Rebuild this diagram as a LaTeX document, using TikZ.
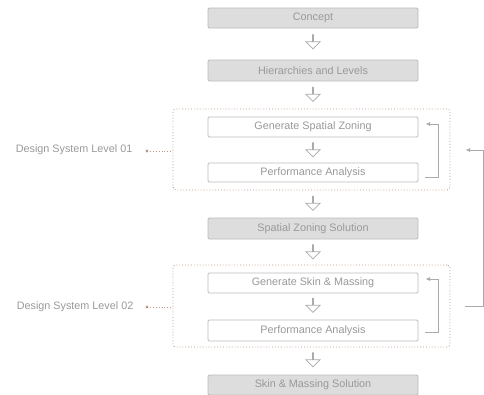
\documentclass[tikz,border=0pt]{standalone}
\usepackage{fontspec}
\setmainfont{Liberation Sans}
\usetikzlibrary{shapes.arrows,arrows.meta,calc}
\definecolor{boxfill}{HTML}{DDDDDD}
\definecolor{boxline}{HTML}{BBBBBB}
\definecolor{txt}{HTML}{999999}
\definecolor{dotc}{HTML}{B89A86}
\definecolor{loopc}{HTML}{AAAAAA}
\tikzset{
  base/.style={draw=boxline, line width=0.8pt, rounded corners=1.2pt, minimum width=210pt, inner sep=0pt, text=txt, font=\fontsize{10.8}{12}\selectfont},
  graybox/.style={base, fill=boxfill},
  whitebox/.style={base, fill=white},
  downarr/.style={single arrow, draw=loopc, fill=white, line width=0.7pt, shape border rotate=270, minimum height=14pt, minimum width=14pt, single arrow head extend=4pt, single arrow head indent=0pt, inner sep=0pt},
  dotbox/.style={draw=dotc, dotted, line width=0.9pt, rounded corners=3pt, minimum width=277pt, minimum height=81pt, inner sep=0pt},
  dotline/.style={draw=dotc, dotted, line width=0.9pt},
  loopline/.style={draw=loopc, line width=0.8pt, -{Latex[length=4.5pt,width=4pt]}},
  lab/.style={text=txt, font=\fontsize{10.8}{12}\selectfont, inner sep=0pt}
}
\begin{document}
\begin{tikzpicture}[x=1pt,y=-1pt]
\useasboundingbox (0,0) rectangle (484,394);
% dotted system boxes
\node[dotbox] (d1) at (311.5,149.5) {};
\node[dotbox, minimum height=82pt] (d2) at (311.5,306) {};
% main boxes
\node[graybox, minimum height=20pt] (c) at (313,18) {Concept};
\node[graybox, minimum height=21pt] (h) at (313,70.5) {Hierarchies and Levels};
\node[whitebox, minimum height=20pt] (g1) at (313,127) {Generate Spatial Zoning};
\node[whitebox, minimum height=19pt] (p1) at (313,172.5) {Performance Analysis};
\node[graybox, minimum height=21pt] (s1) at (313,228.5) {Spatial Zoning Solution};
\node[whitebox, minimum height=20pt] (g2) at (313,283) {Generate Skin \& Massing};
\node[whitebox, minimum height=21pt] (p2) at (313,330.5) {Performance Analysis};
\node[graybox, minimum height=20pt] (s2) at (313,385) {Skin \& Massing Solution};
% hollow arrows
\node[downarr] (a1) at (313,41.5) {};
\node[downarr] (a2) at (313,94) {};
\node[downarr] (a3) at (313,149.5) {};
\node[downarr] (a4) at (313,203) {};
\node[downarr] (a5) at (313,251.5) {};
\node[downarr] (a6) at (313,305) {};
\node[downarr] (a7) at (313,359.5) {};
% labels
\node[lab, anchor=east] (l1) at (132.5,150) {Design System Level 01};
\node[lab, anchor=east] (l2) at (133.5,307) {Design System Level 02};
\coordinate (dot1) at (147,151);
\coordinate (dot2) at (147,307);
\fill[dotc] (dot1) circle (1.6pt);
\fill[dotc] (dot2) circle (1.6pt);
\draw[dotline] (dot1) -- (d1.west |- dot1);
\draw[dotline] (dot2) -- (d2.west |- dot2);
% inner loops
\coordinate (q1s) at (425,177);
\coordinate (q1e) at (425.5,124);
\draw[loopline] (q1s) -- (438,177) -- (438,124) -- (q1e);
\coordinate (q2s) at (425,332);
\coordinate (q2e) at (425.5,279);
\draw[loopline] (q2s) -- (438,332) -- (438,279) -- (q2e);
% outer loop
\coordinate (o1) at (465,306);
\coordinate (o2) at (465.5,150);
\draw[loopline] (o1) -- (483,306) -- (483,150) -- (o2);
\end{tikzpicture}
\end{document}
